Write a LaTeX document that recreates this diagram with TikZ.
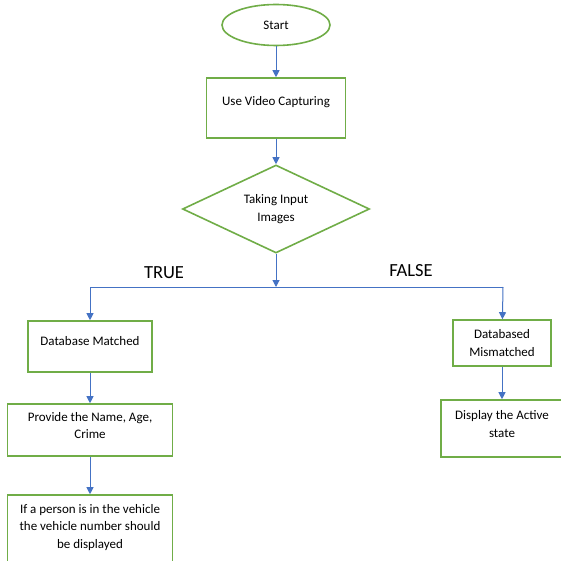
\documentclass[tikz,border=0pt]{standalone}
\usepackage{fontspec}
\setmainfont{Carlito}
\usepackage{tikz}
\usetikzlibrary{shapes.geometric, arrows.meta}

\definecolor{boxgreen}{RGB}{112,173,71}
\definecolor{arrowblue}{RGB}{68,114,196}

\tikzset{
    stepbox/.style={draw=boxgreen, line width=1.6pt, rectangle, align=center,
        font=\fontsize{13}{17.5}\selectfont, inner sep=0pt},
    startnode/.style={draw=boxgreen, line width=1.6pt, ellipse, inner sep=0pt,
        minimum width=108pt, minimum height=41pt, font=\fontsize{13}{17.5}\selectfont},
    decision/.style={draw=boxgreen, line width=1.6pt, diamond, aspect=2.1, inner sep=0pt,
        minimum width=187pt, minimum height=88pt, align=center,
        font=\fontsize{13}{17.5}\selectfont},
    arr/.style={draw=arrowblue, line width=1pt, -{Triangle[width=7pt,length=7pt]}},
    link/.style={draw=arrowblue, line width=1pt},
    branch/.style={font=\fontsize{18.5}{20}\selectfont}
}

\begin{document}
\begin{tikzpicture}[x=1pt, y=-1pt]
    \clip (0,0) rectangle (561,561);
    \fill[white] (0,0) rectangle (561,561);

    % Main column
    \node[startnode] (start) at (276,25) {Start};
    \node[stepbox, minimum width=139pt, minimum height=60pt, text depth=14pt] (capture) at (276,108) {Use Video Capturing};
    \node[decision] (input) at (276,209) {Taking Input\\Images};

    % Split point
    \coordinate (split) at (276,287);
    \coordinate (splitL) at (90,287);
    \coordinate (splitR) at (503,287);

    % Left branch
    \node[stepbox, minimum width=124pt, minimum height=51pt, text depth=12pt] (matched) at (90,346.5) {Database Matched};
    \node[stepbox, minimum width=165pt, minimum height=52pt, text depth=9pt] (details) at (90,430) {Provide the Name, Age,\\Crime};
    \node[stepbox, minimum width=165pt, minimum height=72pt, text depth=10pt] (vehicle) at (90,531) {If a person is in the vehicle\\the vehicle number should\\be displayed};

    % Right branch
    \node[stepbox, minimum width=98pt, minimum height=46pt] (mismatch) at (502,343) {Databased\\Mismatched};
    \node[stepbox, minimum width=122pt, minimum height=57pt, text depth=9pt] (active) at (502,428.5) {Display the Active\\state};

    % Labels
    \node[branch] (truelbl) at (164,273) {TRUE};
    \node[branch] (falselbl) at (411,271) {FALSE};

    % Connectors
    \draw[arr] (start) -- (capture);
    \draw[arr] (capture) -- (input);
    \draw[arr] (input) -- (split);
    \draw[link] (splitL) -- (splitR);
    \draw[arr] (splitL) -- (matched);
    \draw[arr] (splitR) -- (mismatch);
    \draw[arr] (matched) -- (details);
    \draw[arr] (details) -- (vehicle);
    \draw[arr] (mismatch) -- (active);
\end{tikzpicture}
\end{document}
